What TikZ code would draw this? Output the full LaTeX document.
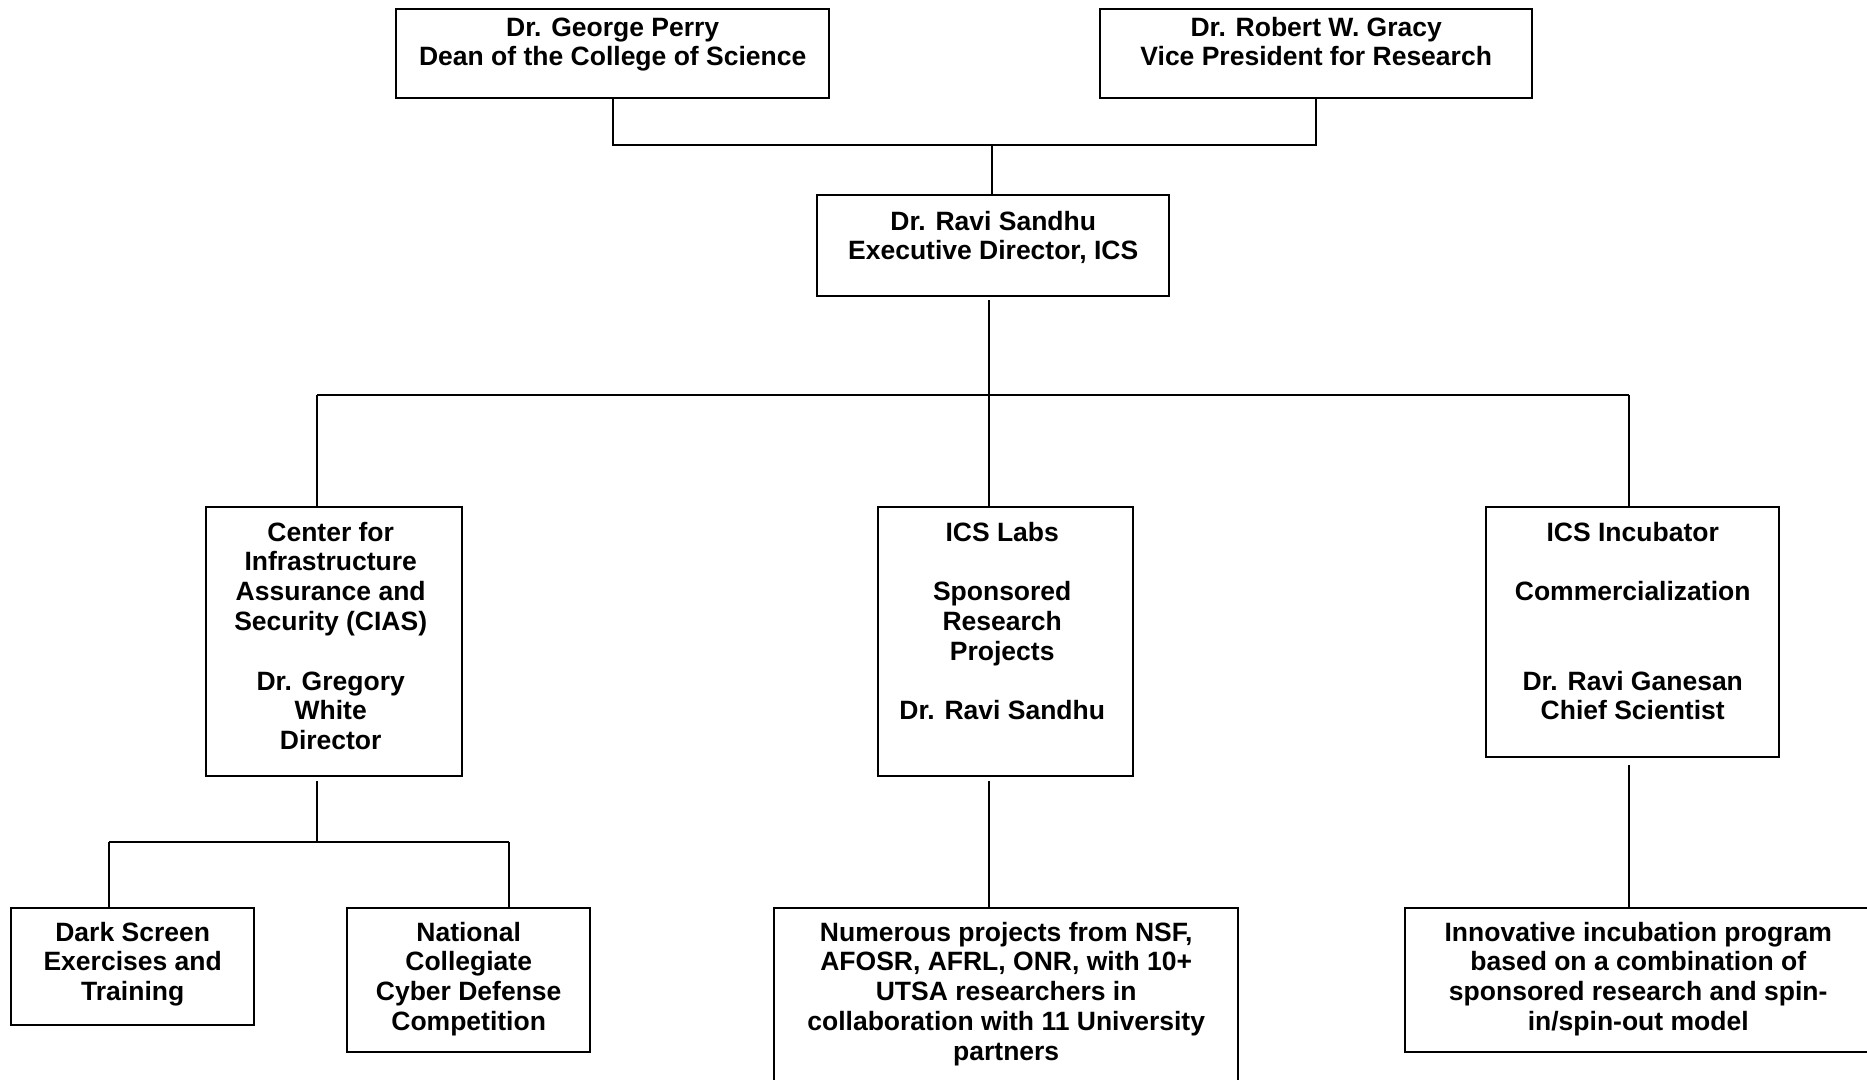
\documentclass[tikz,border=0pt]{standalone}
\usepackage{fontspec}
\setmainfont{Liberation Sans}
\usetikzlibrary{calc}

% top-aligned, centred text block of a given width, height and top gap
\newcommand\orgtext[4]{\parbox[c][#2pt][t]{#1pt}{\centering\vspace*{#3pt}\strut #4\par}}

\tikzset{
  orgbox/.style={draw=black, line width=2.4pt, rectangle, inner sep=0pt,
                 anchor=north west, font=\fontsize{26.5}{29.8}\selectfont\bfseries},
  conn/.style={draw=black, line width=2.4pt}
}

\begin{document}
\begin{tikzpicture}[x=1pt, y=-1pt]
\useasboundingbox (0,0) rectangle (1867,1079);
\clip (0,0) rectangle (1867,1079);
\fill[white] (0,0) rectangle (1867,1079);

% top row
\node[orgbox] (george) at (395,8)
  {\orgtext{433}{89}{6}{Dr. George Perry\\Dean of the College of Science}};
\node[orgbox] (gracy) at (1099,8)
  {\orgtext{432}{89}{6}{Dr. Robert W. Gracy\\Vice President for Research}};

% executive director
\node[orgbox] (ics) at (816,194)
  {\orgtext{352}{101}{14}{Dr. Ravi Sandhu\\Executive Director, ICS}};

% units
\node[orgbox] (cias) at (205,506)
  {\orgtext{256}{269}{13}{\hspace*{-7pt}\begin{tabular}{@{}c@{}}Center for\\Infrastructure\\Assurance and\\Security (CIAS)\\[29.8pt]Dr. Gregory\\White\\Director\end{tabular}}};
\node[orgbox] (labs) at (877,506)
  {\orgtext{255}{269}{13}{\hspace*{-7pt}\begin{tabular}{@{}c@{}}ICS Labs\\[29.8pt]Sponsored\\Research\\Projects\\[29.8pt]Dr. Ravi Sandhu\end{tabular}}};
\node[orgbox] (incub) at (1485,506)
  {\orgtext{293}{250}{13}{ICS Incubator\\[29.8pt]Commercialization\\[59.6pt]Dr. Ravi Ganesan\\Chief Scientist}};

% bottom row
\node[orgbox] (dark) at (10,907)
  {\orgtext{243}{117}{12}{Dark Screen\\Exercises and\\Training}};
\node[orgbox] (natl) at (346,907)
  {\orgtext{243}{144}{12}{National\\Collegiate\\Cyber Defense\\Competition}};
\node[orgbox] (numer) at (773,907)
  {\orgtext{464}{200}{12}{Numerous projects from NSF,\\AFOSR, AFRL, ONR, with 10+\\UTSA researchers in\\collaboration with 11 University\\partners}};
\node[orgbox] (innov) at (1404,907)
  {\orgtext{466}{144}{12}{Innovative incubation program\\based on a combination of\\sponsored research and spin-\\in/spin-out model}};

% junction points
\coordinate (jtop) at (992,145);
\coordinate (jmid) at (989,395);
\coordinate (barL) at (317,395);
\coordinate (barR) at (1629,395);
\coordinate (jcias) at (317,842);
\coordinate (barDL) at (109,842);
\coordinate (barDR) at (509,842);

% top connectors
\draw[conn] (george.south) |- (jtop) -| (gracy.south);
\draw[conn] (jtop) -- (jtop |- ics.north);

% director to units
\draw[conn] (ics.south -| jmid) ++(0,3) -- (jmid);
\draw[conn] (barL) -- (barR);
\draw[conn] (barL) -- (barL |- cias.north);
\draw[conn] (jmid) -- (jmid |- labs.north);
\draw[conn] (barR) -- (barR |- incub.north);

% units to activities
\draw[conn] (cias.south -| jcias) ++(0,4) -- (jcias);
\draw[conn] (barDL) -- (barDR);
\draw[conn] (barDL) -- (barDL |- dark.north);
\draw[conn] (barDR) -- (barDR |- natl.north);
\draw[conn] (labs.south -| jmid) ++(0,4) -- (jmid |- numer.north);
\draw[conn] (incub.south -| barR) ++(0,7) -- (barR |- innov.north);
\end{tikzpicture}
\end{document}
